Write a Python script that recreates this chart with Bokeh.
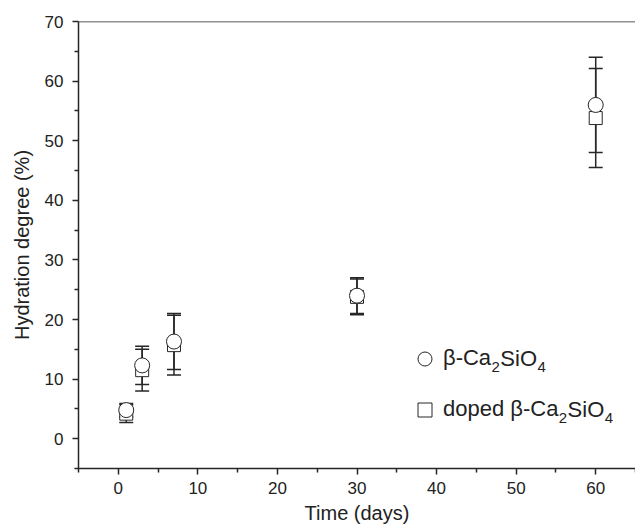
from bokeh.plotting import figure
from bokeh.models import (ColumnDataSource, Whisker, TeeHead, Span, Legend, LegendItem,
                          FixedTicker, Range1d, Label)
from bokeh.embed import file_html
from bokeh.resources import INLINE

# ---- data ----
days = [1, 3, 7, 30, 60]
pure_vals = [4.8, 12.3, 16.3, 24.0, 56.0]
pure_err = [1.1, 3.2, 4.7, 3.0, 8.0]
doped_vals = [4.2, 11.5, 15.7, 23.8, 53.8]
doped_err = [1.5, 3.5, 5.0, 3.0, 8.3]
x_ticks = [0, 10, 20, 30, 40, 50, 60]
y_ticks = [0, 10, 20, 30, 40, 50, 60, 70]
# legend texts split into (normal, subscript) pieces
legend_pure = [("β-Ca", False), ("2", True), ("SiO", False), ("4", True)]
legend_doped = [("doped β-Ca", False), ("2", True), ("SiO", False), ("4", True)]

FONT = "Liberation Sans"
DARK = "#262626"
TXT = "#222222"

W, H = 635, 528
FL, FT, FB = 78, 21, 60   # frame borders

src_p = ColumnDataSource(dict(x=days, y=pure_vals,
                              lo=[v - e for v, e in zip(pure_vals, pure_err)],
                              hi=[v + e for v, e in zip(pure_vals, pure_err)]))
src_d = ColumnDataSource(dict(x=days, y=doped_vals,
                              lo=[v - e for v, e in zip(doped_vals, doped_err)],
                              hi=[v + e for v, e in zip(doped_vals, doped_err)]))

p = figure(width=W, height=H, output_backend="svg", toolbar_location=None,
           x_range=Range1d(-5, 65), y_range=Range1d(-5, 70),
           min_border_left=FL, min_border_right=0, min_border_top=FT, min_border_bottom=FB)
p.outline_line_color = None
p.grid.visible = False
p.background_fill_color = "white"
p.border_fill_color = "white"

for src in (src_d, src_p):
    w = Whisker(source=src, base="x", lower="lo", upper="hi", dimension="height",
                line_color=DARK, line_width=1.5,
                upper_head=TeeHead(size=14, line_color=DARK, line_width=1.5),
                lower_head=TeeHead(size=14, line_color=DARK, line_width=1.5))
    p.add_layout(w)

r_d = p.scatter("x", "y", source=src_d, marker="square", size=13,
                fill_color="white", line_color=DARK, line_width=1)
r_p = p.scatter("x", "y", source=src_p, marker="circle", size=15,
                fill_color="white", line_color=DARK, line_width=1)

p.add_layout(Span(location=70, dimension="width", line_color=DARK, line_width=1.5))

for ax, ticks in ((p.xaxis[0], x_ticks), (p.yaxis[0], y_ticks)):
    ax.ticker = FixedTicker(ticks=ticks, minor_ticks=[t - 5 for t in ticks] + [ticks[-1] + 5])
    ax.axis_line_color = DARK
    ax.axis_line_width = 1.5
    ax.major_tick_line_color = DARK
    ax.major_tick_line_width = 1.5
    ax.minor_tick_line_color = DARK
    ax.minor_tick_line_width = 1.5
    ax.major_tick_out = 6
    ax.major_tick_in = 0
    ax.minor_tick_out = 4
    ax.minor_tick_in = 0
    ax.major_label_text_font = FONT
    ax.major_label_text_font_size = "17px"
    ax.major_label_text_color = TXT
    ax.axis_label_text_font = FONT
    ax.axis_label_text_font_size = "20px"
    ax.axis_label_text_font_style = "normal"
    ax.axis_label_text_color = TXT

p.xaxis.axis_label = "Time (days)"
p.yaxis.axis_label = "Hydration degree (%)"
p.xaxis.major_label_standoff = 7
p.yaxis.major_label_standoff = 9
p.xaxis.axis_label_standoff = 5
p.yaxis.axis_label_standoff = 9

# ---- legend: markers + first text piece through Legend, rest as labels ----
MAIN_PX, SUB_PX = 22, 15
GLYPH = 35
ROW_GAP = 51
leg_left = 329          # frame-relative px
leg_bottom = 41.5
standoff = 1

ADV = {"β": 0.57, "-": 0.333, "C": 0.722, "a": 0.556, "d": 0.556, "o": 0.556,
       "p": 0.556, "e": 0.556, " ": 0.278, "S": 0.667, "i": 0.222, "O": 0.778,
       "2": 0.556, "4": 0.556}

def width(s, px):
    return sum(ADV.get(c, 0.556) for c in s) * px

legend = Legend(items=[LegendItem(label=legend_pure[0][0], renderers=[r_p]),
                       LegendItem(label=legend_doped[0][0], renderers=[r_d])],
                location=(leg_left, leg_bottom), background_fill_alpha=0, border_line_color=None,
                label_text_font=FONT, label_text_font_size=f"{MAIN_PX}px", label_text_color=TXT,
                spacing=ROW_GAP - GLYPH, padding=0, margin=0, glyph_width=GLYPH, glyph_height=GLYPH,
                label_standoff=standoff, label_height=GLYPH)
p.add_layout(legend)

text_x0 = leg_left + GLYPH + standoff
for row, pieces in enumerate((legend_pure, legend_doped)):
    center_y = leg_bottom + GLYPH / 2 + (1 - row) * ROW_GAP
    x = text_x0 + width(pieces[0][0], MAIN_PX)
    for txt, sub in pieces[1:]:
        px = SUB_PX if sub else MAIN_PX
        y = center_y - 8 if sub else center_y
        p.add_layout(Label(x=x, y=y, x_units="screen", y_units="screen", text=txt,
                           text_font=FONT, text_font_size=f"{px}px", text_color=TXT,
                           text_baseline="middle", text_align="left"))
        x += width(txt, px) + 0.5

open("out.html", "w").write(file_html(p, INLINE))
